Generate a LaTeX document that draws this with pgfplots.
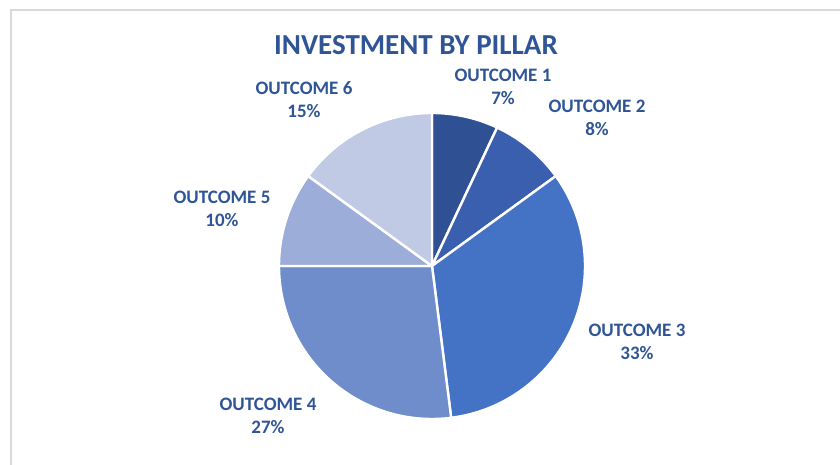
\documentclass[border=0pt]{standalone}
\usepackage{fontspec}
\setmainfont{Carlito}
\usepackage{pgfplots}
\usepackage{pgfplotstable}
\pgfplotsset{compat=1.18}

\definecolor{slice0}{HTML}{2F5193}
\definecolor{slice1}{HTML}{3B5FAF}
\definecolor{slice2}{HTML}{4472C4}
\definecolor{slice3}{HTML}{6F8CCB}
\definecolor{slice4}{HTML}{9CADD9}
\definecolor{slice5}{HTML}{C0CAE5}
\definecolor{txt}{HTML}{2F5597}
\definecolor{frame}{HTML}{D9D9D9}

% share of investment per outcome, in percent
\pgfplotstableread{
name value
1 7
2 8
3 33
4 27
5 10
6 15
}\pie
\pgfplotstablecreatecol[create col/expr accum={\pgfmathaccuma+\thisrow{value}}{0}]{cum}\pie

\begin{document}
\begin{tikzpicture}
\begin{axis}[
  width=840pt, height=465pt, scale only axis,
  xmin=0, xmax=840, ymin=0, ymax=465,
  hide axis,
  clip=true,
]
\fill[white] (rel axis cs:0,0) rectangle (rel axis cs:1,1);
\draw[frame, line width=2pt] (axis cs:11,0) -- (axis cs:11,455) -- (axis cs:840,455);

\pgfplotsinvokeforeach{0,...,5}{
  \pgfplotstablegetelem{#1}{value}\of\pie \pgfmathsetmacro\v{\pgfplotsretval}
  \pgfplotstablegetelem{#1}{cum}\of\pie \pgfmathsetmacro\c{\pgfplotsretval}
  \pgfmathsetmacro\a{90-3.6*\c}
  \pgfmathsetmacro\b{\a+3.6*\v}
  \addplot[fill=slice#1, draw=white, line width=2.4pt, line join=round,
    domain=\a:\b, samples=80]
    ({432+153*cos(x)},{199+153*sin(x)}) -- (axis cs:432,199) -- cycle;
}

\node[txt, font=\fontsize{29}{34}\selectfont\bfseries] at (axis cs:416,420) {INVESTMENT BY PILLAR};

\tikzset{lbl/.style={txt, align=center, font=\fontsize{19}{23}\selectfont\bfseries}}
\node[lbl] at (axis cs:503,378.5) {OUTCOME 1\\7\%};
\node[lbl] at (axis cs:597,347.5) {OUTCOME 2\\8\%};
\node[lbl] at (axis cs:637,123.5) {OUTCOME 3\\33\%};
\node[lbl] at (axis cs:268,49.5) {OUTCOME 4\\27\%};
\node[lbl] at (axis cs:222,256.5) {OUTCOME 5\\10\%};
\node[lbl] at (axis cs:304,365) {OUTCOME 6\\15\%};
\end{axis}
\end{tikzpicture}
\end{document}
